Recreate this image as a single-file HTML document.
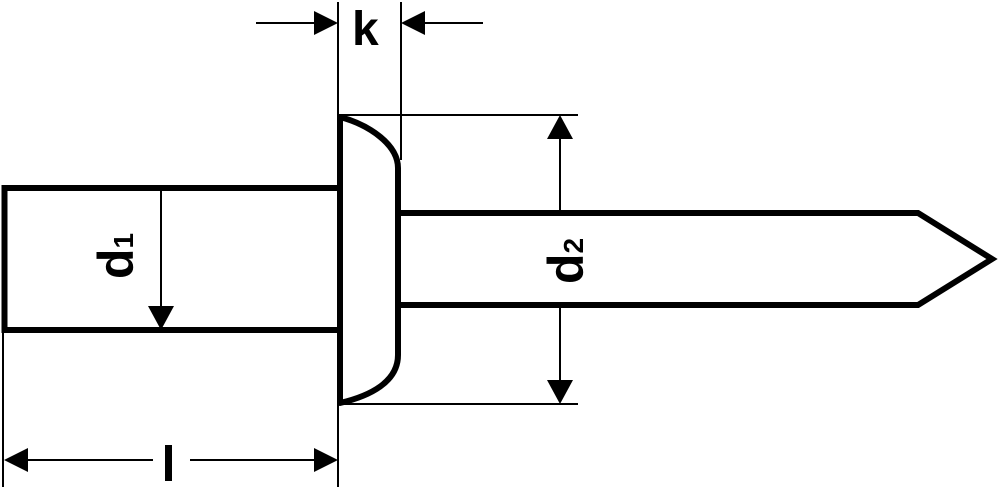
<!DOCTYPE html>
<html><head><style>
html,body{margin:0;padding:0;background:#fff;}
svg{display:block;}
text{font-family:"Liberation Sans",sans-serif;font-weight:bold;fill:#000;}
</style></head><body>
<svg width="1000" height="492" viewBox="0 0 1000 492" xmlns="http://www.w3.org/2000/svg">
<g fill="none" stroke="#000">
  <rect x="4.5" y="188" width="336" height="142" stroke-width="6"/>
  <path d="M340,117 L340,403 C370,396 398,382 398,355 L398,168 C398,145 370,125 340,117 Z" stroke-width="6" fill="#fff" stroke-linejoin="round"/>
  <path d="M400,213 L918,213 L992,259 L918,305 L400,305" stroke-width="6" stroke-linejoin="miter"/>
  <g stroke-width="2">
    <line x1="338" y1="2" x2="338" y2="487"/>
    <line x1="401" y1="2" x2="401" y2="160"/>
    <line x1="3" y1="330" x2="3" y2="487"/>
    <line x1="256" y1="23" x2="318" y2="23"/>
    <line x1="421" y1="23" x2="483" y2="23"/>
    <line x1="338" y1="115" x2="578" y2="115"/>
    <line x1="338" y1="404" x2="578" y2="404"/>
    <line x1="560" y1="130" x2="560" y2="213"/>
    <line x1="560" y1="305" x2="560" y2="390"/>
    <line x1="161" y1="188" x2="161" y2="310"/>
    <line x1="24" y1="460" x2="153" y2="460"/>
    <line x1="190" y1="460" x2="318" y2="460"/>
  </g>
</g>
<g fill="#000">
  <polygon points="338,23 314,11 314,35"/>
  <polygon points="401,23 425,11 425,35"/>
  <polygon points="560,115 547,139 573,139"/>
  <polygon points="560,404 547,380 573,380"/>
  <polygon points="161,330 148,306 174,306"/>
  <polygon points="4,460 28,448 28,472"/>
  <polygon points="338,460 314,448 314,472"/>
  <rect x="165" y="445" width="7" height="36"/>
</g>
<text x="352" y="45" font-size="48">k</text>
<text transform="translate(133,279) rotate(-90)" font-size="50">d<tspan font-size="28">1</tspan></text>
<text transform="translate(583,284) rotate(-90)" font-size="50">d<tspan font-size="28">2</tspan></text>
</svg>
</body></html>
